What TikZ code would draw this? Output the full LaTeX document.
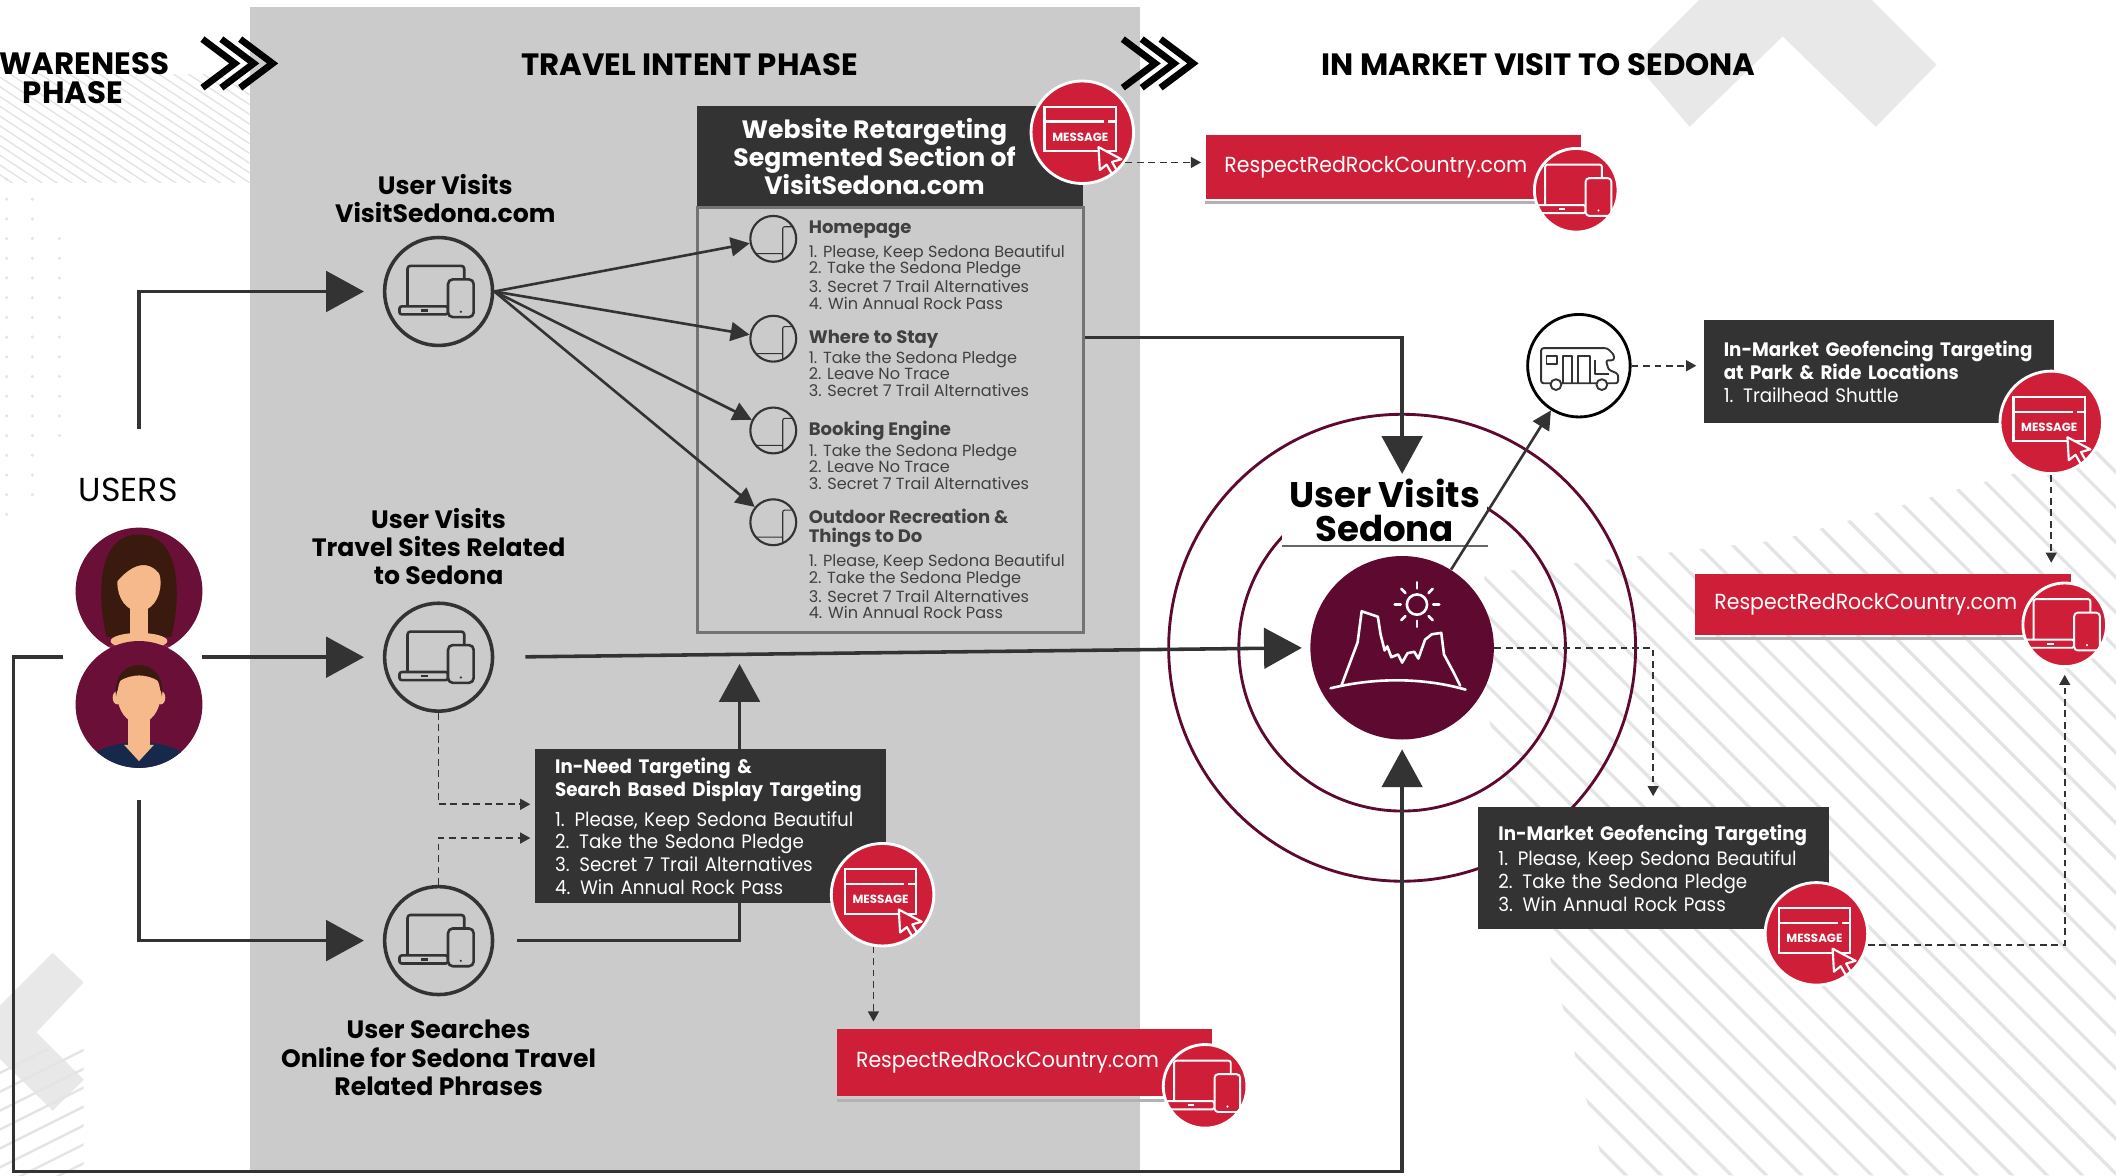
\documentclass[tikz,border=0pt]{standalone}
\usepackage{fontspec}
\setmainfont{Poppins}
\newfontfamily\narrowfont{Poppins}[FakeStretch=0.94]
\usetikzlibrary{arrows.meta,calc}
\hyphenpenalty=10000
\exhyphenpenalty=10000

\definecolor{panel}{HTML}{CBCBCB}
\definecolor{ink}{HTML}{333333}
\definecolor{boxgray}{HTML}{333333}
\definecolor{rrred}{HTML}{CF1F38}
\definecolor{maroon}{HTML}{5E0A30}
\definecolor{avatarbg}{HTML}{6A0F37}
\definecolor{skin}{HTML}{F6B98C}
\definecolor{hair}{HTML}{3A1A0F}
\definecolor{navy}{HTML}{16294A}
\definecolor{pinktop}{HTML}{931B50}
\definecolor{stripe}{HTML}{E4E4E4}
\definecolor{decolight}{HTML}{E8E8E8}
\definecolor{itemtxt}{HTML}{404040}

\newcommand\ihead[1]{{\bfseries\fontsize{7.6}{8}\selectfont #1}}
\newcommand\bhead[1]{{\bfseries #1}}

% laptop + phone
\newcommand\devicesicon[4]{%
  \begin{scope}[shift={(#1)},scale=#2,line width=#2*1.1pt,line join=round]
    \draw[#3,rounded corners=#2*1.2pt] (-23,11) -- (-23,-19) -- (19,-19) -- (19,11);
    \draw[#3,fill=#4,rounded corners=#2*1pt] (-29,11) rectangle (7,17);
    \draw[#3] (-13,14) -- (-8,14);
    \draw[#3,fill=#4,rounded corners=#2*2pt] (7,-9) rectangle (26,19);
    \fill[#3] (16.5,15) circle (0.9);
  \end{scope}}

\newcommand\msgicon[1]{%
  \begin{scope}[shift={(#1)},draw=white,line width=0.9pt]
    \draw (-28,-19) rectangle (25,14);
    \draw (-28,-8) -- (16,-8) (19,-8) -- (25,-8);
    \node[text=white,font=\bfseries\fontsize{5}{5}\selectfont,inner sep=0pt] at (-1.5,3.5) {MESSAGE};
    \draw[fill=rrred,line join=round] (12,11) -- (29,20) -- (22,22) -- (26,29) -- (22,31) -- (18,24) -- (13,28) -- cycle;
  \end{scope}}

\newcommand\sedonaicon[1]{%
  \begin{scope}[shift={(#1)},draw=white,line width=1.1pt,line join=round,line cap=round]
    \draw (11,-32) circle (7.5);
    \foreach \a in {0,45,...,315} \draw (11,-32) ++(\a:12) -- ++(\a:4.5);
    \draw (-53,30) .. controls (-20,22) and (15,22) .. (47,31);
    \draw (-45,28) -- (-33,-4) -- (-30,-27) -- (-18,-23) -- (-16,-10) -- (-13,2) -- (-11,-1) -- (-8,7) -- (-3,5) -- (0,11) -- (4,4) -- (9,3) -- (12,8) -- (17,-6) -- (22,-10) -- (29,-11) -- (31,5) -- (38,18) -- (43,28);
  \end{scope}}

\newcommand\rvicon[1]{%
  \begin{scope}[shift={(#1)},draw=ink,line width=0.8pt,line join=round]
    \draw[rounded corners=1pt] (-28,13) -- (-28,-13) -- (21,-13) -- (26,-8) -- (26,-4) -- (20,-4) -- (22,3) -- (29,6) -- (29,13) -- cycle;
    \draw (-24,-7) rectangle (-16,-1);
    \draw (-12,13) -- (-12,-7) -- (-5,-7) -- (-5,13);
    \draw (-1,13) -- (-1,-7) -- (8,-7) -- (8,13);
    \draw (12,-4) -- (12,6) -- (22,6);
    \draw[fill=white] (-17,14) circle (4);
    \draw[fill=white] (17,14) circle (4);
  \end{scope}}

\newcommand\womanicon[1]{%
  \begin{scope}[shift={(#1)}]
    \fill[hair] (-24,34) .. controls (-31,5) and (-32,-42) .. (0,-42) .. controls (32,-42) and (31,5) .. (24,34) -- cycle;
    \fill[pinktop] (0,62) ellipse (50 and 24);
    \fill[skin] (-7,8) rectangle (7,32);
    \fill[skin] (0,37) ellipse (21 and 6);
    \fill[skin] (0,-6) ellipse (16 and 21);
    \fill[hair] (-17,-6) .. controls (-18,-30) and (-2,-33) .. (10,-28) .. controls (16,-25) and (18,-18) .. (17,-10) .. controls (10,-22) and (0,-21) .. (-8,-15) .. controls (-12,-12) and (-15,-9) .. (-17,-6) -- cycle;
  \end{scope}}

\newcommand\manicon[1]{%
  \begin{scope}[shift={(#1)}]
    \fill[navy] (0,62) ellipse (52 and 34);
    \fill[skin] (-8,5) rectangle (8,32);
    \fill[skin] (-11,30) -- (0,42) -- (11,30) -- cycle;
    \fill[skin] (-16,-5) ellipse (3.5 and 5);
    \fill[skin] (16,-5) ellipse (3.5 and 5);
    \fill[skin] (0,-7) ellipse (16 and 21);
    \fill[hair] (-17,-6) .. controls (-21,-37) and (21,-37) .. (17,-6) -- (15,-17) .. controls (6,-23) and (-6,-23) .. (-15,-17) -- cycle;
  \end{scope}}

\begin{document}
\begin{tikzpicture}[x=0.02cm,y=-0.02cm,
    phase/.style={font=\bfseries\fontsize{13}{12.5}\selectfont,align=center,inner sep=0pt},
    userlabel/.style={font=\bfseries\fontsize{10.6}{12}\selectfont,align=center},
    devcircle/.style={circle,draw=ink,line width=1.5pt,fill=panel,minimum size=1.6cm,inner sep=0pt,
      path picture={\devicesicon{path picture bounding box.center}{1}{ink}{panel}}},
    pagecircle/.style={circle,draw=ink,line width=0.9pt,fill=panel,minimum size=0.68cm,inner sep=0pt,
      path picture={\devicesicon{path picture bounding box.center}{0.42}{ink}{panel}}},
    itemtext/.style={anchor=north west,align=left,inner sep=0pt,text=itemtxt,
      font=\fontsize{6.8}{6.9}\selectfont},
    darkbox/.style={fill=boxgray,text=white,anchor=north west,align=left,inner xsep=0.3cm,
      minimum width=5.2cm,text width=4.6cm,font=\narrowfont\fontsize{8.2}{9.6}\selectfont},
    redbox/.style={fill=rrred,text=white,anchor=north west,align=left,inner xsep=0.28cm,
      text width=5cm,font=\narrowfont\fontsize{9.2}{10}\selectfont},
    msgbadge/.style={circle,fill=rrred,draw=white,line width=1.2pt,minimum size=1.52cm,inner sep=0pt,
      path picture={\msgicon{path picture bounding box.center}}},
    devbadge/.style={circle,fill=rrred,draw=white,line width=1.2pt,minimum size=1.24cm,inner sep=0pt,
      path picture={\devicesicon{path picture bounding box.center}{0.75}{white}{rrred}}},
    avatar/.style={circle,fill=avatarbg,minimum size=1.88cm,inner sep=0pt},
    bigarrow/.style={draw=ink,line width=1.5pt,-{Triangle[length=0.56cm,width=0.6cm]}},
    midarrow/.style={draw=ink,line width=1.1pt,-{Triangle[length=0.28cm,width=0.28cm]}},
    dasharrow/.style={draw=ink,line width=0.75pt,dash pattern=on 0.1cm off 0.07cm,
      -{Triangle[length=0.15cm,width=0.16cm]}},
    chev/.style={line width=0.1cm,black}
  ]
  \useasboundingbox (0,0) rectangle (1568,871);
  \clip (0,0) rectangle (1568,871);

  % background
  \begin{scope}
    \clip (0,55) rectangle (185,135);
    \foreach \i in {0,...,31} \draw[stripe,line width=0.6pt] (\i*11-180,40) -- ++(240,158);
  \end{scope}
  \foreach \cy in {133,147.6,...,382} \fill[stripe] (5,\cy) circle (1.3);
  \foreach \cy in {147.6,162.2,...,367} \fill[stripe] (24,\cy) circle (1.3);
  \foreach \cy in {176.8,191.4,...,323} \fill[stripe] (44,\cy) circle (1.3);
  \fill[decolight] (39,706) -- (62,728) -- (27,765) -- (62,800) -- (39,823) -- (-20,765) -- cycle;
  \begin{scope}
    \clip (0,778) rectangle (62,871);
    \foreach \i in {0,...,10} \draw[stripe,line width=1pt] (-10,800+\i*14) -- ++(90,-45);
  \end{scope}
  \fill[decolight] (1212,47) -- (1252,94) -- (1321,27) -- (1390,94) -- (1435,48) -- (1323,-64) -- cycle;
  \begin{scope}
    \clip (1100,425) -- (1320,400) -- (1460,360) -- (1568,330) -- (1568,871) -- (1190,871) -- (1100,520) -- cycle;
    \foreach \i in {0,...,45} \draw[stripe,line width=1.4pt] (480+\i*26,250) -- ++(650,650);
  \end{scope}
  \fill[panel] (185,5) rectangle (845,868);

  % phases
  \node[phase] (awareness) at (54,58) {AWARENESS\\PHASE};
  \node[phase] (intent) at (511,48) {TRAVEL INTENT PHASE};
  \node[phase] (inmarket) at (1140,48) {IN MARKET VISIT TO SEDONA};
  \foreach \dx in {0,14,28} {
    \draw[chev] (150+\dx,29) -- (174+\dx,47) -- (150+\dx,65);
    \draw[chev] (832+\dx,29) -- (856+\dx,47) -- (832+\dx,65);
  }

  % users
  \node[font=\fontsize{14}{16}\selectfont] (users) at (95,363) {USERS};
  \node[avatar,path picture={\womanicon{path picture bounding box.center}}] (woman) at (103,438) {};
  \node[avatar,path picture={\manicon{path picture bounding box.center}}] (man) at (103,522) {};
  \coordinate (u1) at (103,318);
  \coordinate (u2) at (150,487);
  \coordinate (u3) at (103,593);
  \coordinate (u4) at (47,487);
  \coordinate (loopa) at (10,487);
  \coordinate (loopb) at (10,868);

  \node[devcircle] (c1) at (325,216) {};
  \node[devcircle] (c2) at (325,487) {};
  \node[devcircle] (c3) at (325,697) {};
  \node[userlabel] (visitlbl) at (330,147) {User Visits\\VisitSedona.com};
  \node[userlabel] (travellbl) at (325,405) {User Visits\\Travel Sites Related\\to Sedona};
  \node[userlabel] (searchlbl) at (325,784) {User Searches\\Online for Sedona Travel\\Related Phrases};

  % website retargeting
  \node[fill=boxgray,minimum width=5.72cm,minimum height=1.5cm,anchor=north west] (rthead) at (516,78) {};
  \node[text=white,align=center,font=\bfseries\fontsize{10.6}{12}\selectfont] (rttitle) at (648,116) {Website Retargeting\\Segmented Section of\\VisitSedona.com};
  \node[draw=black!55,line width=1.2pt,fill=panel,minimum width=5.72cm,minimum height=6.3cm,anchor=north west] (rtbody) at (516,153) {};
  \node[pagecircle] (home) at (573,177) {};
  \node[pagecircle] (stay) at (573,251) {};
  \node[pagecircle] (booking) at (573,319) {};
  \node[pagecircle] (outdoor) at (573,387) {};
  \node[itemtext] (hometxt) at (599,163) {\ihead{Homepage}\\[2pt]1. Please, Keep Sedona Beautiful\\2. Take the Sedona Pledge\\3. Secret 7 Trail Alternatives\\4. Win Annual Rock Pass};
  \node[itemtext] (staytxt) at (599,244) {\ihead{Where to Stay}\\[0.6pt]1. Take the Sedona Pledge\\2. Leave No Trace\\3. Secret 7 Trail Alternatives};
  \node[itemtext] (bookingtxt) at (599,312) {\ihead{Booking Engine}\\[0.6pt]1. Take the Sedona Pledge\\2. Leave No Trace\\3. Secret 7 Trail Alternatives};
  \node[itemtext] (outdoortxt) at (599,377) {\ihead{Outdoor Recreation \&}\\[1pt]\ihead{Things to Do}\\[2pt]1. Please, Keep Sedona Beautiful\\2. Take the Sedona Pledge\\3. Secret 7 Trail Alternatives\\4. Win Annual Rock Pass};
  \foreach \p in {home,stay,booking,outdoor} \draw[midarrow] (c1.east) -- (\p);

  % in market
  \draw[maroon,line width=1.2pt] (1039,480) circle (173);
  \draw[maroon,line width=1.2pt] (1039,480) circle (121);
  \node[circle,fill=maroon,minimum size=2.72cm,inner sep=0pt,
    path picture={\sedonaicon{path picture bounding box.center}}] (sedona) at (1039,480) {};
  \node[fill=white,minimum width=3.04cm,minimum height=1.06cm,inner sep=0pt,align=center,
    font=\bfseries\fontsize{15}{14.5}\selectfont] (sedlabel) at (1026,378) {User Visits\\Sedona};
  \draw[black!60,line width=0.8pt] (sedlabel.south west) -- (sedlabel.south east);
  \node[circle,draw=black,line width=1.2pt,fill=white,minimum size=1.52cm,inner sep=0pt,
    path picture={\rvicon{path picture bounding box.center}}] (rv) at (1170,271) {};

  % main flow
  \draw[bigarrow,shorten >=0.28cm] (u1) |- (c1.west);
  \draw[bigarrow,shorten >=0.28cm] (u2) -- (c2.west);
  \draw[bigarrow,shorten >=0.28cm] (u3) |- (c3.west);
  \draw[bigarrow,shorten >=0.14cm] (u4) -- (loopa) -- (loopb) -| (sedona.south);
  \draw[bigarrow,shorten <=0.46cm,shorten >=0.12cm] (c2.east) -- (sedona.west);
  \draw[bigarrow,shorten <=0.34cm,shorten >=0.44cm] (c3.east) -| ($(rtbody.south west)+(32,0)$);
  \coordinate (rtout) at ($(rtbody.north east)+(0,97)$);
  \draw[bigarrow] (rtout) -| (sedona |- sedlabel.north);
  \draw[midarrow] (sedona) -- (rv);

  % targeting boxes
  \node[darkbox,minimum height=2.28cm] (inneed) at (396,555) {\bhead{In-Need Targeting \&}\\\bhead{Search Based Display Targeting}\\[3pt]1. Please, Keep Sedona Beautiful\\2. Take the Sedona Pledge\\3. Secret 7 Trail Alternatives\\4. Win Annual Rock Pass};
  \node[darkbox,minimum height=1.52cm] (park) at (1262,237) {\bhead{In-Market Geofencing Targeting}\\\bhead{at Park \& Ride Locations}\\1. Trailhead Shuttle};
  \node[darkbox,minimum height=1.8cm] (geo) at (1095,598) {\bhead{In-Market Geofencing Targeting}\\[1pt]1. Please, Keep Sedona Beautiful\\2. Take the Sedona Pledge\\3. Win Annual Rock Pass};

  \node[redbox,minimum height=0.94cm] (rrc1) at (893,100) {RespectRedRockCountry.com};
  \node[redbox,minimum height=0.9cm] (rrc2) at (1256,425) {RespectRedRockCountry.com};
  \node[redbox,minimum height=1cm] (rrc3) at (620,762) {RespectRedRockCountry.com};
  \foreach \r in {rrc1,rrc2,rrc3}
    \draw[black!30,line width=1.2pt] ([yshift=-1.5pt]\r.south west) -- ([yshift=-1.5pt]\r.south east);

  \node[msgbadge] (msg1) at (802,98) {};
  \node[msgbadge] (msg2) at (654,663) {};
  \node[msgbadge] (msg3) at (1520,313) {};
  \node[msgbadge] (msg4) at (1346,692) {};
  \node[devbadge] (dev1) at (1168,141) {};
  \node[devbadge] (dev2) at (1530,463) {};
  \node[devbadge] (dev3) at (893,805) {};

  \draw[dasharrow,shorten >=0.06cm] (c2.south) |- ($(inneed.north west)+(0,41)$);
  \draw[dasharrow,shorten >=0.06cm] (c3.north) |- ($(inneed.north west)+(0,66)$);
  \draw[dasharrow,shorten >=0.06cm] (msg1.-35) -- (msg1.-35 -| rrc1.west);
  \draw[dasharrow,shorten >=0.1cm] (msg2.-100) -- (msg2.-100 |- rrc3.north);
  \draw[dasharrow,shorten >=0.1cm] (rv.east) -- (rv.east -| park.west);
  \draw[dasharrow,shorten >=0.16cm] (msg3.south) -- (msg3.south |- rrc2.north);
  \draw[dasharrow,shorten >=0.16cm] (sedona.east) -| ($(geo.north west)+(130,0)$);
  \draw[dasharrow,shorten >=0.1cm] (msg4.-12) -| (dev2.south);
\end{tikzpicture}
\end{document}
